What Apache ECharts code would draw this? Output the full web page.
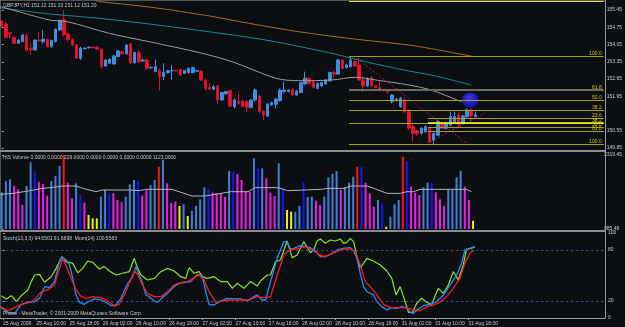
<!DOCTYPE html>
<html>
<head>
<meta charset="utf-8">
<script src="https://cdn.jsdelivr.net/npm/echarts@6/dist/echarts.min.js"></script>
<style>
html,body{margin:0;padding:0;background:#0b0f12;}
#chart{width:625px;height:327px;}
</style>
</head>
<body>
<div id="chart"></div>
<script>
// GBPJPY H1 bars, [open, high, low, close]
var bars = [
[155.00,155.02,154.77,154.80],[154.88,154.94,154.30,154.34],[154.53,154.57,154.30,154.48],[154.34,154.37,154.07,154.10],
[154.10,154.26,154.07,154.23],[154.17,154.48,154.14,154.44],[154.40,154.50,153.76,153.83],[153.90,154.13,153.62,153.83],
[153.83,154.26,153.80,154.23],[154.23,154.57,154.17,154.19],[154.17,154.64,154.10,154.26],[154.26,154.30,153.93,153.96],
[153.96,154.25,153.92,154.21],[154.17,154.71,154.12,154.67],[154.64,155.06,154.60,155.02],[155.07,155.45,154.37,154.44],
[154.48,154.57,154.17,154.26],[154.26,154.30,154.00,154.03],[154.03,154.07,153.46,153.49],[153.49,153.96,153.42,153.90],
[153.88,153.93,153.85,153.90],[153.92,153.97,153.89,153.94],[153.94,153.97,153.89,153.92],[153.94,153.98,153.83,153.86],
[153.86,153.90,153.08,153.15],[153.18,153.45,153.15,153.42],[153.29,153.48,153.26,153.45],[153.26,153.62,153.23,153.58],
[153.56,153.83,153.53,153.79],[153.76,153.80,153.64,153.67],[153.67,154.07,153.64,154.03],[154.07,154.10,153.27,153.31],
[153.31,153.76,153.27,153.72],[153.72,153.83,153.29,153.35],[153.38,153.48,153.35,153.42],[153.42,153.49,153.02,153.08],
[153.10,153.15,153.07,153.12],[152.95,153.45,152.95,153.15],[152.99,153.08,152.20,152.74],[152.74,153.29,152.61,152.91],
[152.91,153.02,152.88,152.99],[152.98,153.22,152.61,152.99],[152.99,153.02,152.95,152.98],[153.04,153.07,152.78,152.81],
[152.88,153.02,152.85,152.99],[152.91,153.12,152.88,153.08],[152.91,153.15,152.88,153.11],[152.97,153.02,152.95,152.99],
[152.97,153.00,152.57,152.61],[152.61,152.64,152.20,152.27],[152.30,152.47,152.20,152.24],[152.23,152.40,152.20,152.34],
[152.37,152.41,151.66,151.80],[151.80,152.13,151.77,152.10],[152.05,152.17,152.00,152.14],[152.18,152.21,151.50,151.55],
[151.53,151.87,151.46,151.80],[151.73,152.10,151.60,151.66],[151.77,151.83,151.50,151.53],[151.73,151.80,151.33,151.50],
[151.50,151.83,151.46,151.80],[151.80,152.27,151.73,152.20],[151.96,152.00,151.27,151.33],[151.33,151.39,150.99,151.19],
[151.15,151.66,151.12,151.64],[151.60,151.73,151.56,151.69],[151.62,151.87,151.46,151.83],[151.77,152.27,151.73,152.20],
[152.14,152.54,152.07,152.20],[152.14,152.24,152.10,152.20],[152.23,152.27,151.96,152.00],[152.00,152.20,151.96,152.16],
[152.10,152.54,152.07,152.50],[152.45,152.95,152.41,152.68],[152.68,152.74,152.41,152.47],[152.54,152.58,152.27,152.31],
[152.27,152.50,152.24,152.47],[152.37,152.54,152.33,152.51],[152.45,152.64,152.41,152.61],[152.58,152.95,152.54,152.91],
[152.91,152.99,152.68,152.85],[152.85,153.46,152.82,153.42],[153.42,153.46,153.04,153.08],[153.12,153.26,153.08,153.22],
[153.15,153.58,153.12,153.42],[153.35,153.42,153.15,153.18],[153.22,153.50,152.58,152.61],[152.61,152.74,152.13,152.37],
[152.37,152.72,152.33,152.68],[152.72,152.76,152.33,152.37],[152.38,152.41,152.27,152.30],[152.30,152.54,152.14,152.20],
[152.21,152.25,152.15,152.19],[152.19,152.22,152.05,152.15],[151.73,152.04,151.66,152.00],[151.80,151.90,151.73,151.83],
[151.53,151.93,151.48,151.87],[151.80,151.90,151.27,151.33],[151.33,151.42,150.58,150.65],[150.72,150.85,150.10,150.44],
[150.55,150.60,150.35,150.42],[150.44,150.70,150.40,150.65],[150.51,150.78,150.47,150.72],[150.65,150.72,150.05,150.10],
[150.17,150.48,150.01,150.44],[150.37,150.99,150.33,150.92],[150.88,150.92,150.60,150.65],[150.65,150.92,150.60,150.85],
[150.78,151.33,150.72,151.12],[150.92,151.33,150.85,151.12],[151.19,151.33,150.65,150.78],[150.85,151.19,150.80,151.15],
[151.12,151.46,151.08,151.39],[151.39,151.46,150.92,151.15],[151.12,151.33,151.12,151.20]
];

// moving averages on price, [bar, price]
var maSlow = [[22.5,155.83],[23.6,155.79],[31.5,155.65],[39.6,155.48],[47.6,155.27],[50,155.21],[59.5,154.91],[71.5,154.57],[83.5,154.30],[97.9,154.03],[103.4,153.88],[113,153.58]];
var maMid = [[-0.4,155.54],[11.6,155.29],[23.6,155.11],[35.6,154.88],[47.6,154.62],[63.6,154.23],[79.5,153.69],[87.6,153.35],[97.9,152.98],[103.4,152.81],[113,152.41]];
var maFast = [[-0.4,155.60],[11.6,155.04],[15.7,154.98],[26,154.50],[35.6,154.16],[47.6,153.72],[55.5,153.35],[66,152.68],[71.5,152.58],[79.5,152.61],[85.2,152.72],[90,152.61],[97.9,152.41],[103.4,152.20],[110.6,151.73]];

// fibonacci tool anchors: [start bar, high, low]
var fibA = [83.6, 153.58, 150.01];
var fibB = [102.6, 151.39, 150.01];
var fibLevels = [0, 23.6, 38.2, 50, 61.8, 100, 161.8];
var fibALabelled = [38.2, 50, 61.8, 100];
var fibBLabelled = [23.6, 38.2, 50, 61.8, 100];

// trend lines [bar, price]
var trendDown = [[84.7, 153.58], [112.8, 149.93]];
var trendUp = [[102.5, 150.05], [116.4, 151.27]];
var marker = [[112.8, 151.80]];

// volume histogram
var volume = [1645,1849,1879,1765,1699,1417,1759,2185,2017,1837,
 1795,1585,1849,1939,2119,2317,1819,1537,1807,1597,
 1459,1237,1177,1177,1567,1687,1627,1627,1507,1465,
 1567,1789,1867,1849,1585,1687,1777,1867,2107,2227,
 1807,1459,1477,1399,1429,1219,1309,1399,1519,1735,
 1699,1639,1627,1627,1567,2029,2017,1975,1867,1657,
 1657,2257,2077,2077,1897,1639,1579,2167,1717,1327,
 1297,1297,1399,1825,1560,1567,1495,1417,1567,1915,
 1975,2029,1687,1735,1819,1927,2107,2107,1819,1627,
 1387,1507,1447,1027,1207,1429,1507,2287,2209,1747,
 1639,1597,1735,1819,1819,1645,1519,1405,1699,1699,
 1915,2035,1747,1507,1135];
var volumeKind = ('LLLMMMLLBM' + 'MMLLLRMMLB' + 'MYYYLLBMMM' + 'LLLBMMLLRL' + 'MMMYLYLLLL' +
  'BMMMMLBMMM' + 'MLBLMMMLBY' + 'YLLBLLMMLL' + 'LLMLLLRBMM' + 'MLBYLLLRBM' + 'MMLLBMMMLL' + 'LLMMY').split('');
var volumeMa = [[-0.4,1609],[2.8,1627],[6.8,1675],[10,1717],[12.4,1735],[14.8,1759],[18,1759],[19.6,1717],[22.8,1657],[24.4,1687],[30.8,1687],[33.2,1675],[34.8,1699],[41.2,1699],[43.6,1639],[46,1579],[49.2,1579],[54,1639],[55.6,1657],[59.6,1657],[61.2,1729],[66.8,1729],[69.2,1675],[74,1690],[77.2,1699],[78.8,1717],[82.8,1717],[84.4,1759],[88.4,1759],[90,1717],[93.2,1627],[96.4,1627],[98,1657],[99.6,1657],[101.2,1699],[112.4,1699],[113.6,1657]];

// stochastic + momentum, [bar, value]
var stochMain = [[-0.4,12.2],[1.2,6.7],[2.8,5.5],[4.4,16.1],[6.0,18.5],[7.6,19.2],[8.8,23.2],[10.0,36.9],[11.2,35.7],[12.4,42.8],[13.6,66.3],[14.2,72.2],[15.2,68.2],[16.0,62.4],[16.8,46.7],[17.6,27.1],[18.4,18.5],[19.6,16.1],[20.8,20.0],[22.0,22.4],[23.6,21.2],[24.8,18.5],[26.0,14.5],[27.2,15.3],[28.4,23.2],[30.0,40.8],[31.2,48.6],[32.0,60.4],[32.8,50.6],[33.6,40.8],[34.4,27.1],[35.2,25.1],[36.4,20.0],[37.2,18.5],[38.4,24.0],[39.6,29.0],[41.2,36.9],[42.4,40.8],[44.0,42.0],[45.2,42.8],[46.8,51.4],[48.0,48.6],[48.8,31.0],[49.6,16.1],[50.8,15.3],[52.4,20.0],[54.0,23.2],[55.6,22.4],[57.2,22.4],[58.8,20.0],[60.4,25.1],[61.2,27.1],[62.4,21.2],[63.2,21.2],[64.4,42.8],[66.0,70.2],[67.6,89.8],[68.4,89.0],[69.2,81.2],[70.0,82.0],[71.6,85.1],[72.8,83.9],[74.0,82.7],[75.2,78.8],[76.4,72.2],[77.6,72.2],[78.8,74.9],[80.4,80.0],[82.0,82.0],[83.6,82.7],[84.4,78.8],[85.2,70.2],[86.0,52.6],[86.8,36.9],[87.6,31.0],[89.2,27.1],[90.0,19.2],[91.2,13.4],[92.4,9.4],[93.6,12.2],[94.8,11.4],[96.0,13.4],[97.2,12.2],[98.0,6.7],[98.8,5.5],[99.6,9.4],[101.2,14.5],[102.8,16.1],[104.4,19.2],[106.0,27.1],[107.6,38.8],[109.2,50.6],[110.4,64.3],[111.2,80.0],[112.4,82.0],[113.6,83.9]];
var stochSignal = [[-0.4,13.4],[1.2,8.3],[2.8,12.2],[4.4,16.1],[6.0,17.7],[7.6,21.2],[9.2,31.0],[10.8,33.0],[12.4,38.8],[13.6,58.4],[14.4,70.2],[15.2,61.6],[16.4,46.7],[17.6,33.0],[18.8,25.1],[20.0,23.2],[21.6,25.1],[23.6,23.9],[25.2,20.0],[26.8,14.1],[28.0,16.1],[29.2,27.1],[30.4,40.8],[31.6,55.3],[32.4,51.4],[33.6,38.8],[34.8,29.0],[36.4,25.1],[38.0,25.1],[39.6,31.0],[41.2,38.8],[42.8,42.0],[44.4,42.8],[46.0,47.5],[47.2,50.6],[48.4,44.7],[49.6,31.0],[51.2,18.5],[52.8,20.0],[54.8,21.2],[57.2,21.2],[59.2,21.2],[61.2,25.1],[62.8,24.0],[64.4,25.1],[66.0,50.6],[67.6,74.1],[69.2,80.8],[70.8,81.2],[72.8,83.9],[74.0,81.2],[75.6,76.1],[77.2,72.2],[78.8,74.9],[80.4,78.0],[82.0,81.2],[83.6,81.2],[84.8,78.0],[86.0,62.4],[87.2,42.8],[88.4,36.9],[90.0,27.1],[91.6,16.1],[93.2,12.2],[94.8,12.2],[96.4,12.2],[98.0,10.6],[99.6,8.3],[100.8,9.4],[102.0,13.4],[103.6,15.3],[105.2,18.5],[106.8,25.1],[108.4,34.9],[110.0,46.7],[111.2,64.3],[112.4,76.1],[113.4,80.0]];
var momentum = [[-0.4,26.3],[0.8,22.4],[2.0,26.3],[3.2,19.2],[4.4,26.3],[6.0,33.0],[6.8,42.8],[7.6,50.6],[8.8,51.4],[10.0,42.0],[11.6,48.6],[12.8,58.4],[14.0,70.2],[15.2,66.3],[16.8,64.3],[18.0,53.3],[19.2,58.4],[20.4,67.1],[21.6,65.5],[23.2,57.7],[24.4,60.4],[25.6,55.3],[27.2,50.6],[28.8,52.6],[30.4,54.5],[31.6,70.2],[32.4,58.4],[33.2,50.6],[34.8,44.7],[36.4,46.7],[38.0,54.5],[39.6,58.4],[41.2,55.3],[42.8,48.6],[44.0,46.7],[44.8,59.2],[46.0,52.6],[47.2,54.5],[48.0,48.6],[49.2,46.7],[50.8,48.6],[52.4,42.8],[54.0,42.8],[55.2,34.9],[56.4,40.8],[58.0,34.9],[59.6,42.8],[61.2,37.7],[62.0,43.5],[63.6,50.6],[64.4,50.6],[65.6,66.3],[66.8,68.2],[68.4,90.6],[69.6,71.0],[70.8,74.1],[72.4,89.8],[74.0,77.0],[74.8,80.0],[75.6,90.6],[76.4,93.0],[77.6,87.8],[78.8,91.8],[80.0,90.6],[81.2,93.0],[82.0,87.8],[82.8,89.0],[83.6,93.7],[84.4,89.8],[85.2,72.2],[86.0,59.2],[86.8,64.3],[87.6,70.2],[89.2,67.1],[90.8,62.4],[92.4,55.3],[93.6,46.7],[94.6,27.1],[95.6,36.9],[96.8,19.2],[97.6,6.7],[98.6,6.7],[99.6,17.3],[100.8,23.2],[102.0,18.5],[103.2,16.1],[104.8,34.9],[106.0,29.0],[107.2,38.8],[108.4,54.5],[109.6,44.7],[110.8,62.4],[111.6,81.2],[112.8,82.0],[113.6,83.9]];

// axes
var timeTicks = [0,8,16,24,32,40,48,56,64,72,80,88,96,104,112];
var timeLabels = ['25 Aug 2009','25 Aug 10:00','25 Aug 18:00','26 Aug 02:00','26 Aug 10:00','26 Aug 18:00','27 Aug 02:00','27 Aug 10:00','27 Aug 18:00','28 Aug 02:00','28 Aug 10:00','28 Aug 18:00','31 Aug 02:00','31 Aug 10:00','31 Aug 18:00'];
var priceTicks = [149.85,150.55,151.95,152.65,153.35,154.05,154.75,155.45];
var volumeTicks = [985.46, 2319.45];
var stochTicks = [0, 20, 80, 100];

var FONT = 'Liberation Sans';
var TXT = '#c8c8c8';
var xMin = -0.41, xMax = 144.92;

var volColor = {L:'#3f7fd6', B:'#1414f5', M:'#e81ee8', Y:'#f0f000', R:'#ff1414'};

// fib segments
function fibLines(anchor, labelled, fromTop) {
    var out = [];
    fibLevels.forEach(function (lv) {
        if (fromTop && lv > 100) return;
        var range = anchor[1] - anchor[2];
        var p = fromTop ? anchor[1] - lv / 100 * range : anchor[2] + lv / 100 * range;
        var col = '#a89e10', w = 1;
        if (!fromTop && lv === 61.8) { col = '#6c6c58'; w = 2; }
        if (fromTop && lv === 38.2) { col = '#ffff30'; w = 1.5; }
        if (!fromTop && lv === 161.8) { col = '#e8e050'; }
        out.push([
            {coord: [anchor[0], p], lineStyle: {color: col, width: w, type: 'solid'},
             label: {show: labelled.indexOf(lv) >= 0, formatter: lv.toFixed(1), position: 'insideEndTop',
                     color: '#d0c800', fontSize: 5, fontFamily: FONT, distance: [2, 0]}},
            {coord: [xMax, p]}
        ]);
    });
    return out;
}

var last = bars[bars.length - 1];
var markData = fibLines(fibA, fibALabelled, false).concat(fibLines(fibB, fibBLabelled, true));
markData.push([
    {coord: [bars.length - 1, last[3]], lineStyle: {opacity: 0},
     label: {show: true, position: 'end', formatter: last[3].toFixed(2), backgroundColor: '#ffffff',
             color: '#000000', fontSize: 5, fontFamily: FONT, padding: [1, 1, 0, 1], distance: 1}},
    {coord: [xMax, last[3]]}
]);

function yAxisFor(grid, min, max, ticks, digits) {
    return {
        type: 'value', gridIndex: grid, position: 'right', min: min, max: max,
        axisLine: {show: false},
        axisTick: {show: true, customValues: ticks, length: 2, lineStyle: {color: '#a0a0a0'}},
        splitLine: {show: false},
        axisLabel: {customValues: ticks, color: TXT, fontSize: 5, fontFamily: FONT, margin: 3,
            formatter: function (v) { return v.toFixed(digits); }}
    };
}

function xAxisFor(grid, withLabels) {
    return {
        type: 'value', gridIndex: grid, min: xMin, max: xMax,
        show: withLabels,
        axisLine: {show: false},
        splitLine: {show: false},
        axisTick: {show: withLabels, customValues: timeTicks, length: 2, lineStyle: {color: '#a0a0a0'}},
        axisLabel: {customValues: timeTicks, color: TXT, fontSize: 5, fontFamily: FONT, margin: 3, align: 'left',
            formatter: function (v) { return timeLabels[timeTicks.indexOf(v)]; }}
    };
}

var myChart = echarts.init(document.getElementById('chart'));

var option = {
    backgroundColor: '#0b0f12',
    animation: false,
    grid: [
        {left: 0, right: 20, top: 1, height: 148},
        {left: 0, right: 20, top: 152, height: 77},
        {left: 0, right: 20, top: 233, height: 85}
    ],
    xAxis: [xAxisFor(0, false), xAxisFor(1, false), xAxisFor(2, true)],
    yAxis: [
        yAxisFor(0, 149.81, 155.815, priceTicks, 2),
        yAxisFor(1, 985.46, 2371, volumeTicks, 2),
        yAxisFor(2, 0, 100, stochTicks, 0)
    ],
    series: [
        {type: 'line', xAxisIndex: 0, yAxisIndex: 0, data: maSlow, symbol: 'none', smooth: 0.3,
         lineStyle: {color: '#a86e26', width: 1}},
        {type: 'line', xAxisIndex: 0, yAxisIndex: 0, data: maMid, symbol: 'none', smooth: 0.3,
         lineStyle: {color: '#1c8494', width: 1}},
        {type: 'line', xAxisIndex: 0, yAxisIndex: 0, data: maFast, symbol: 'none', smooth: 0.3,
         lineStyle: {color: '#9c9c94', width: 1}},
        {
            type: 'candlestick', xAxisIndex: 0, yAxisIndex: 0,
            data: bars.map(function (b, i) { return [i, b[0], b[3], b[2], b[1]]; }),
            encode: {x: 0, y: [1, 2, 3, 4]},
            barWidth: 3,
            itemStyle: {color: '#3d8ee0', color0: '#ee1424', borderColor: '#3d8ee0', borderColor0: '#d81030', borderWidth: 1},
            markLine: {silent: true, symbol: ['none', 'none'], animation: false, data: markData}
        },
        {type: 'line', xAxisIndex: 0, yAxisIndex: 0, data: trendDown, symbol: 'none',
         lineStyle: {color: '#c0105c', width: 1, type: [2, 2]}},
        {type: 'line', xAxisIndex: 0, yAxisIndex: 0, data: trendUp, symbol: 'none',
         lineStyle: {color: '#c0105c', width: 1, type: [2, 2]}},
        {type: 'scatter', xAxisIndex: 0, yAxisIndex: 0, data: marker, symbol: 'circle', symbolSize: [17, 15],
         itemStyle: {color: new echarts.graphic.RadialGradient(0.45, 0.4, 0.6, [
             {offset: 0, color: '#4a4aff'}, {offset: 1, color: '#0808e0'}])}},
        {
            type: 'bar', xAxisIndex: 1, yAxisIndex: 1, barWidth: 2,
            data: volume.map(function (v, i) {
                return {value: [i, v], itemStyle: {color: volColor[volumeKind[i]]}};
            })
        },
        {type: 'line', xAxisIndex: 1, yAxisIndex: 1, data: volumeMa, symbol: 'none',
         lineStyle: {color: '#b4b4b4', width: 1}},
        {type: 'line', xAxisIndex: 2, yAxisIndex: 2, data: momentum, symbol: 'none',
         lineStyle: {color: '#8ee22a', width: 1.2}},
        {type: 'line', xAxisIndex: 2, yAxisIndex: 2, data: stochMain, symbol: 'none',
         lineStyle: {color: '#1f8fff', width: 1.3}},
        {type: 'line', xAxisIndex: 2, yAxisIndex: 2, data: stochSignal, symbol: 'none',
         lineStyle: {color: '#ff1a1a', width: 1.3},
         markLine: {silent: true, symbol: ['none', 'none'], label: {show: false},
             lineStyle: {color: '#50509c', width: 1, type: [2, 3]},
             data: [{yAxis: 20}, {yAxis: 80}]}}
    ],
    graphic: [
        {type: 'rect', shape: {x: 0, y: 0, width: 605.5, height: 318.5}, silent: true, z: 50,
         style: {fill: 'none', stroke: '#9a9a9a', lineWidth: 1}},
        {type: 'rect', shape: {x: 0, y: 150, width: 605, height: 2}, silent: true, z: 50,
         style: {fill: '#8c8c8c'}},
        {type: 'rect', shape: {x: 0, y: 230, width: 605, height: 2}, silent: true, z: 50,
         style: {fill: '#8c8c8c'}},
        {type: 'text', x: 3, y: 3, z: 60, style: {text: 'GBPJPY,H1 151.12 151.33 151.12 151.20', fill: TXT, fontSize: 5, fontFamily: FONT}},
        {type: 'text', x: 3, y: 155, z: 60, style: {text: 'HiS Volume 0.0000 0.0000 229.0000 0.0000 0.0000 0.0000 0.0000 1123.0000', fill: TXT, fontSize: 5, fontFamily: FONT}},
        {type: 'text', x: 3, y: 236, z: 60, style: {text: 'Stoch(13,3,3) 94.6501 91.6898  Mom(14) 100.5583', fill: TXT, fontSize: 5, fontFamily: FONT}},
        {type: 'text', x: 3, y: 311, z: 60, style: {text: 'Phase - MetaTrader, \u00a9 2001-2009 MetaQuotes Software Corp.', fill: TXT, fontSize: 5, fontFamily: FONT}}
    ]
};

if (option && typeof option === "object") {
    myChart.setOption(option, true);
}
</script>
</body>
</html>
